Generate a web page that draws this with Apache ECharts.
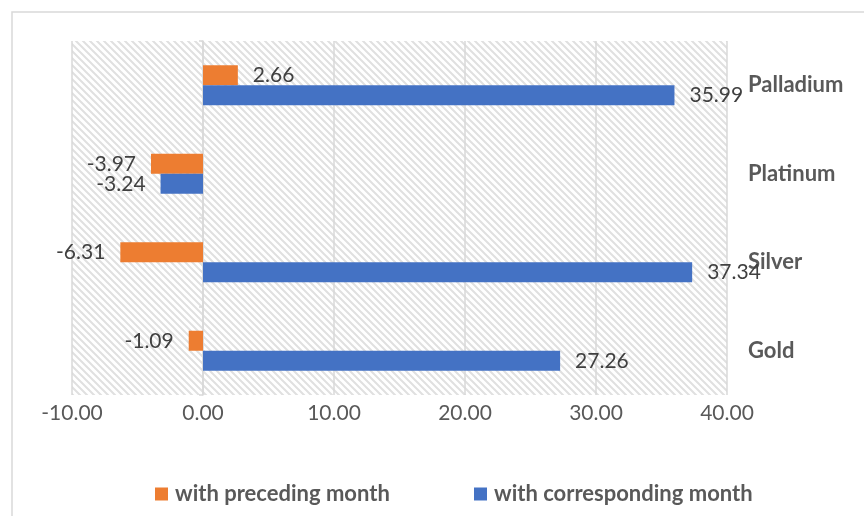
<!DOCTYPE html>
<html>
<head>
<meta charset="utf-8">
<script src="https://cdn.jsdelivr.net/npm/echarts@6/dist/echarts.min.js"></script>
<style>
  html, body { margin: 0; padding: 0; background: #fff; }
  #chart { width: 864px; height: 516px; }
</style>
</head>
<body>
<div id="chart"></div>
<script>
// Metals, listed bottom to top
const metals = ['Gold', 'Silver', 'Platinum', 'Palladium'];
// Percentage change versus the preceding month
const precedingMonth = [-1.09, -6.31, -3.97, 2.66];
// Percentage change versus the corresponding month of last year
const correspondingMonth = [27.26, 37.34, -3.24, 35.99];
const seriesNames = ['with preceding month', 'with corresponding month'];
const axisTicks = [-10, 0, 10, 20, 30, 40];

const FONT = 'Lato';

// Diagonal hatch fill for the plotting area
function hatchPattern() {
  const n = 7;
  const c = document.createElement('canvas');
  c.width = n; c.height = n;
  const ctx = c.getContext('2d');
  ctx.fillStyle = '#ffffff';
  ctx.fillRect(0, 0, n, n);
  ctx.strokeStyle = '#e0e0e0';
  ctx.lineWidth = 2;
  ctx.beginPath();
  ctx.moveTo(-1, -1); ctx.lineTo(n + 1, n + 1);
  ctx.moveTo(-1, n - 1); ctx.lineTo(1, n + 1);
  ctx.moveTo(n - 1, -1); ctx.lineTo(n + 1, 1);
  ctx.stroke();
  return { image: c, repeat: 'repeat' };
}

function withLabelSide(values) {
  return values.map(v => ({
    value: v,
    label: { position: v < 0 ? 'left' : 'right' }
  }));
}

const legendText = {
  fontFamily: FONT, fontSize: 22, fontWeight: 'bold', color: '#595959',
  padding: [0, 0, 0, 2]
};

const chart = echarts.init(document.getElementById('chart'), null, { renderer: 'canvas' });

chart.setOption({
  animation: false,
  backgroundColor: '#ffffff',
  textStyle: { fontFamily: FONT },
  grid: {
    left: 72, right: 137, top: 41, bottom: 121,
    show: true,
    backgroundColor: hatchPattern(),
    borderWidth: 0
  },
  graphic: [{
    type: 'rect',
    shape: { x: 12, y: 12, width: 900, height: 600 },
    style: { fill: 'none', stroke: '#d9d9d9', lineWidth: 1.5 },
    silent: true
  }],
  legend: [{
    left: 150, top: 478,
    icon: 'rect', itemWidth: 13, itemHeight: 13, itemGap: 0,
    data: [seriesNames[0]],
    textStyle: legendText
  }, {
    left: 469, top: 478,
    icon: 'rect', itemWidth: 13, itemHeight: 13, itemGap: 0,
    data: [seriesNames[1]],
    textStyle: legendText
  }],
  xAxis: {
    type: 'value',
    min: axisTicks[0],
    max: axisTicks[axisTicks.length - 1],
    interval: axisTicks[1] - axisTicks[0],
    axisLine: { show: false },
    axisTick: { show: false },
    axisLabel: {
      margin: 8,
      fontFamily: FONT, fontSize: 21, color: '#595959',
      formatter: v => v.toFixed(2)
    },
    splitLine: { show: true, lineStyle: { color: '#d9d9d9', width: 1.5 } }
  },
  yAxis: [{
    type: 'category',
    data: metals,
    position: 'right',
    axisLine: { show: false, onZero: false },
    axisTick: { show: false },
    axisLabel: {
      margin: 21,
      fontFamily: FONT, fontSize: 22, fontWeight: 'bold', color: '#595959',
      align: 'left'
    }
  }, {
    // category axis line sitting on x = 0, drawn only for its short ticks
    type: 'category',
    data: metals,
    position: 'left',
    axisLine: { show: true, onZero: true, lineStyle: { color: '#d9d9d9', width: 1.5 } },
    axisTick: { show: true, length: 4, lineStyle: { color: '#d9d9d9', width: 1.5 } },
    axisLabel: { show: false }
  }],
  series: [{
    name: seriesNames[0],
    type: 'bar',
    yAxisIndex: 0,
    data: withLabelSide(precedingMonth),
    barWidth: 20,
    barGap: '0%',
    itemStyle: { color: '#ED7D31' },
    label: {
      show: true, distance: 15,
      fontFamily: FONT, fontSize: 21, color: '#404040',
      formatter: p => p.value.toFixed(2)
    }
  }, {
    name: seriesNames[1],
    type: 'bar',
    yAxisIndex: 0,
    data: withLabelSide(correspondingMonth),
    barWidth: 20,
    barGap: '0%',
    itemStyle: { color: '#4472C4' },
    label: {
      show: true, distance: 15,
      fontFamily: FONT, fontSize: 21, color: '#404040',
      formatter: p => p.value.toFixed(2)
    }
  }]
});
</script>
</body>
</html>
